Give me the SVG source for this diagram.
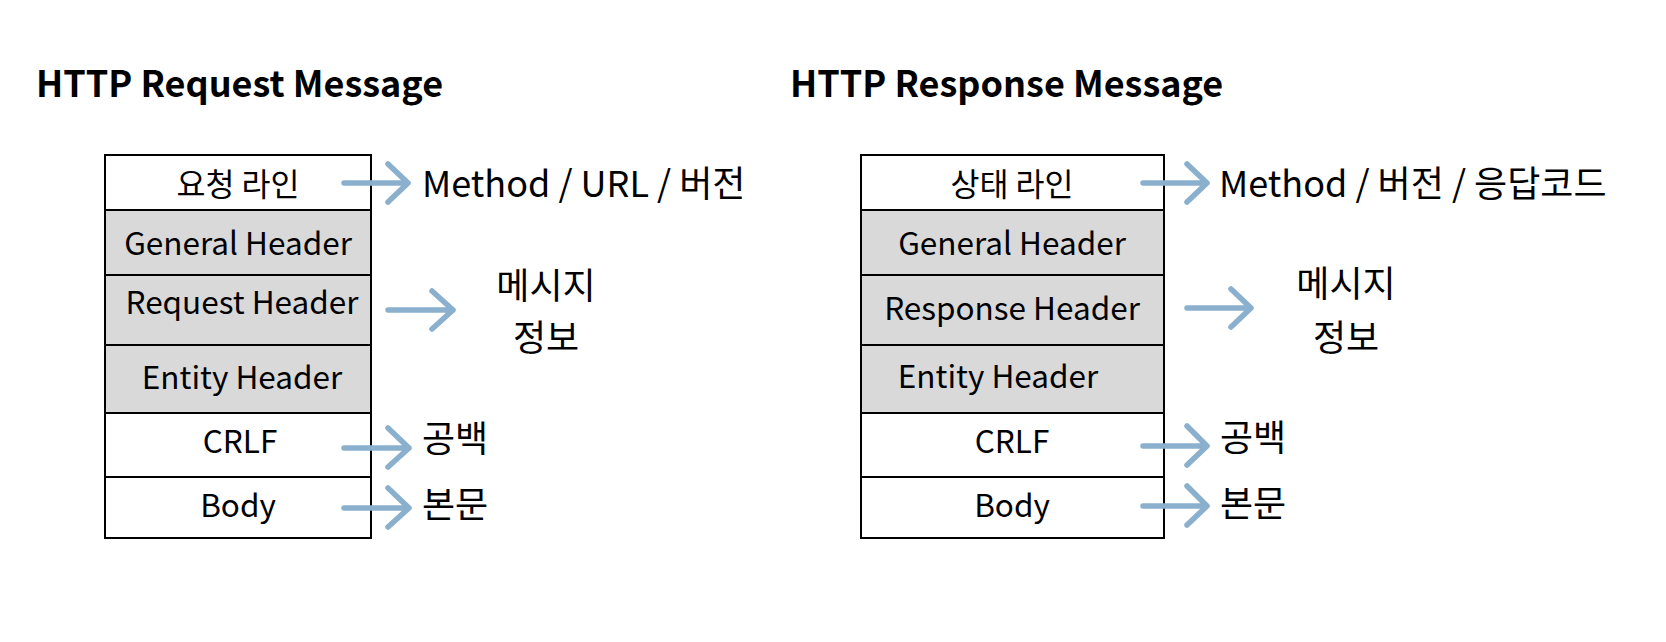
<svg xmlns="http://www.w3.org/2000/svg" width="1666" height="642" viewBox="0 0 1666 642">
  <defs>
    <style>
      text { font-family: "Noto Sans CJK KR", "Noto Sans", sans-serif; fill: #000; }
      .title { font-size: 36px; font-weight: 700; }
      .cell { font-size: 31.5px; text-anchor: middle; }
      .note { font-size: 36px; }
      .mid { text-anchor: middle; }
      .frame { fill: none; stroke: #000; stroke-width: 2; }
      .white { fill: #fff; }
      .gray { fill: #d9d9d9; }
      .div { stroke: #000; stroke-width: 2; }
      .arrow { fill: none; stroke: #8ab0cd; stroke-width: 5.5; stroke-linecap: round; stroke-linejoin: round; }
    </style>
  </defs>
  <rect width="1666" height="642" fill="#fff"/>

  <!-- Request message -->
  <text id="req-title" class="title" x="36" y="97">HTTP Request Message</text>
  <g id="req-box">
    <rect class="white" x="105" y="155" width="266" height="383"/>
    <rect class="gray" x="105" y="210" width="266" height="203"/>
    <line class="div" x1="105" y1="210" x2="371" y2="210"/>
    <line class="div" x1="105" y1="275" x2="371" y2="275"/>
    <line class="div" x1="105" y1="345" x2="371" y2="345"/>
    <line class="div" x1="105" y1="413" x2="371" y2="413"/>
    <line class="div" x1="105" y1="477" x2="371" y2="477"/>
    <rect class="frame" x="105" y="155" width="266" height="383"/>
  </g>
  <g id="req-line"><text class="cell" x="238" y="196">요청 라인</text></g>
  <g id="req-general"><text class="cell" x="238" y="255">General Header</text></g>
  <g id="req-request"><text class="cell" x="242" y="314">Request Header</text></g>
  <g id="req-entity"><text class="cell" x="242" y="389">Entity Header</text></g>
  <g id="req-crlf"><text class="cell" x="240" y="453">CRLF</text></g>
  <g id="req-body"><text class="cell" x="238" y="517">Body</text></g>

  <g id="req-notes">
    <text class="note" x="422" y="197">Method / URL / 버전</text>
    <text class="note mid" x="546" y="299">메시지</text>
    <text class="note mid" x="546" y="351">정보</text>
    <text class="note" x="422" y="452">공백</text>
    <text class="note" x="422" y="518">본문</text>
  </g>

  <!-- Response message -->
  <text id="res-title" class="title" x="790" y="97">HTTP Response Message</text>
  <g id="res-box">
    <rect class="white" x="861" y="155" width="303" height="383"/>
    <rect class="gray" x="861" y="210" width="303" height="203"/>
    <line class="div" x1="861" y1="210" x2="1164" y2="210"/>
    <line class="div" x1="861" y1="275" x2="1164" y2="275"/>
    <line class="div" x1="861" y1="345" x2="1164" y2="345"/>
    <line class="div" x1="861" y1="413" x2="1164" y2="413"/>
    <line class="div" x1="861" y1="477" x2="1164" y2="477"/>
    <rect class="frame" x="861" y="155" width="303" height="383"/>
  </g>
  <g id="res-status"><text class="cell" x="1012" y="196">상태 라인</text></g>
  <g id="res-general"><text class="cell" x="1012" y="255">General Header</text></g>
  <g id="res-response"><text class="cell" x="1012" y="320">Response Header</text></g>
  <g id="res-entity"><text class="cell" x="998" y="388">Entity Header</text></g>
  <g id="res-crlf"><text class="cell" x="1012" y="453">CRLF</text></g>
  <g id="res-body"><text class="cell" x="1012" y="517">Body</text></g>

  <g id="res-notes">
    <text class="note" x="1219" y="197">Method / 버전 / 응답코드</text>
    <text class="note mid" x="1346" y="297">메시지</text>
    <text class="note mid" x="1346" y="351">정보</text>
    <text class="note" x="1220" y="451">공백</text>
    <text class="note" x="1220" y="517">본문</text>
  </g>

  <!-- connectors -->
  <g id="connectors" class="arrow">
    <path d="M344 183 H408 M388 164 L408 183 L388 202"/>
    <path d="M388 310 H453 M432 291 L453 310 L432 329"/>
    <path d="M344 448 H409 M388 428 L409 448 L388 467"/>
    <path d="M344 508 H409 M388 488 L409 508 L388 527"/>
    <path d="M1143 183 H1207 M1187 164 L1207 183 L1187 202"/>
    <path d="M1187 308 H1251 M1231 289 L1251 308 L1231 327"/>
    <path d="M1143 446 H1207 M1187 426 L1207 446 L1187 465"/>
    <path d="M1143 506 H1207 M1187 486 L1207 506 L1187 525"/>
  </g>
</svg>
